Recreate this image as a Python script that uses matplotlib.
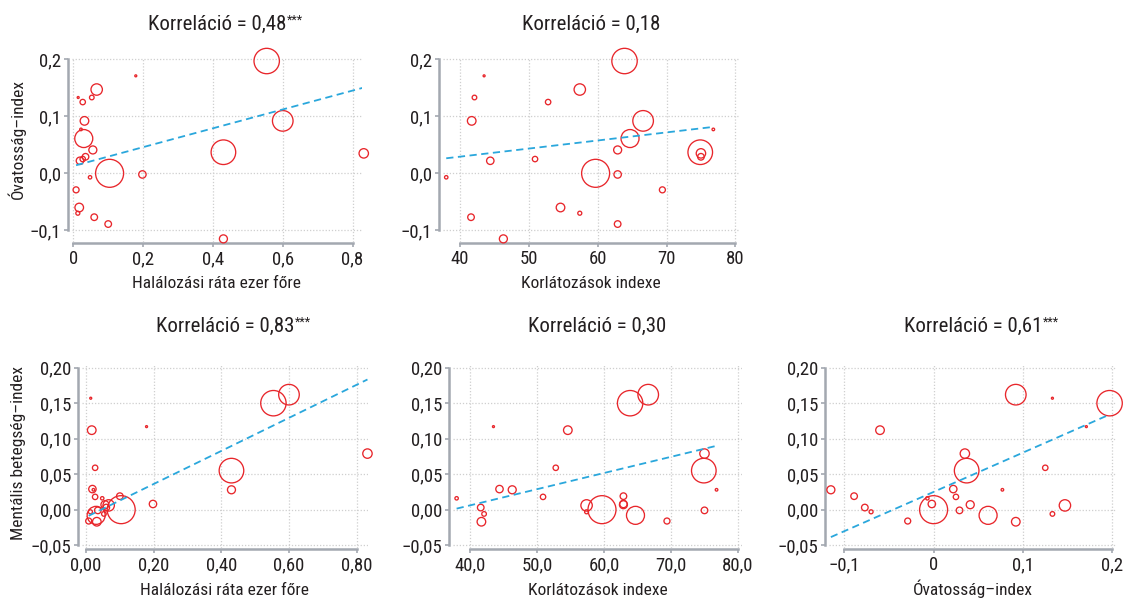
import numpy as np
import matplotlib
matplotlib.use("Agg")
import matplotlib.pyplot as plt
from matplotlib.ticker import FixedLocator, FixedFormatter

# --- Data (one entry per country, same order everywhere) ---
halalozas = [0.554, 0.179, 0.014, 0.027, 0.053, 0.067, 0.032, 0.022, 0.030, 0.056,
             0.035, 0.027, 0.019, 0.104, 0.198, 0.048, 0.008, 0.017, 0.013, 0.060,
             0.100, 0.430, 0.600, 0.430, 0.832]
korlatozas = [63.9, 43.5, np.nan, 52.8, 42.1, 57.4, 41.7, 76.8, 64.7, 62.9,
              75.0, 50.9, 44.4, 59.7, 62.9, 38.0, 69.4, 54.6, 57.4, 41.6,
              62.9, 74.9, 66.6, 46.3, 75.0]
ovatossag = [0.197, 0.171, 0.133, 0.125, 0.133, 0.147, 0.092, 0.077, 0.061, 0.041,
             0.029, 0.025, 0.022, 0.000, -0.002, -0.007, -0.029, -0.060, -0.070, -0.077,
             -0.089, 0.037, 0.092, -0.115, 0.035]
mentalis = [0.150, 0.117, 0.157, 0.059, -0.006, 0.006, -0.017, 0.028, -0.008, 0.007,
            -0.001, 0.018, 0.029, 0.000, 0.008, 0.016, -0.016, 0.112, -0.003, 0.003,
            0.019, 0.055, 0.162, 0.028, 0.079]
# bubble size variable (relative radius)
meret = [12.7, 1.0, 1.0, 2.7, 2.3, 5.7, 4.3, 1.3, 9.0, 4.0,
         3.3, 2.7, 3.7, 14.0, 3.7, 1.7, 3.0, 4.3, 2.0, 3.3,
         3.3, 12.3, 10.3, 4.0, 4.7]

korrelaciok = ["0,48", "0,18", "0,83", "0,30", "0,61"]
csillagok = ["***", "", "***", "", "***"]

x_halal_felso = ["0", "0,2", "0,4", "0,6", "0,8"]
x_halal_also = ["0,00", "0,20", "0,40", "0,60", "0,80"]
x_korl_felso = ["40", "50", "60", "70", "80"]
x_korl_also = ["40,0", "50,0", "60,0", "70,0", "80,0"]
x_ovat = ["\u22120,1", "0", "0,1", "0,2"]
y_ovat = ["\u22120,1", "0,0", "0,1", "0,2"]
y_ment = ["\u22120,05", "0,00", "0,05", "0,10", "0,15", "0,20"]

PIROS = "#e8262b"
KEK = "#2aa7dc"
SZURKE = "#a3a8b0"
RACS = "#cfcfcf"
SZOVEG = "#231f20"

W, H = 1124, 599

plt.rcParams["font.family"] = ["Roboto Condensed", "DejaVu Sans"]
plt.rcParams["font.stretch"] = "condensed"


def panel(fig, box, x, y, xticks, xlabels, yticks, ylabels, xlim, ylim,
          i, xlabel, ylabel=None, ylabel_pos=None, title_pad=20, xlabel_base=0):
    l, t, r, b = box
    ax = fig.add_axes([l / W, 1 - b / H, (r - l) / W, (b - t) / H])
    x = np.asarray(x, float)
    y = np.asarray(y, float)
    m = np.asarray(meret, float)
    ok = ~np.isnan(x) & ~np.isnan(y)

    ax.set_xlim(*xlim)
    ax.set_ylim(*ylim)
    ax.xaxis.set_major_locator(FixedLocator(xticks))
    ax.xaxis.set_major_formatter(FixedFormatter(xlabels))
    ax.yaxis.set_major_locator(FixedLocator(yticks))
    ax.yaxis.set_major_formatter(FixedFormatter(ylabels))
    ax.grid(True, linestyle=(0, (1, 1.5)), color=RACS, linewidth=0.9)
    ax.set_axisbelow(True)

    sizes = (2 * m[ok] * 72 / 100) ** 2
    ax.scatter(x[ok], y[ok], s=sizes, facecolors="none", edgecolors=PIROS,
               linewidths=0.95, clip_on=False, zorder=3)

    # weighted regression line (weight ~ bubble area) over the data range
    k, c = np.polyfit(x[ok], y[ok], 1, w=m[ok])
    xs = np.array([x[ok].min(), x[ok].max()])
    ax.plot(xs, k * xs + c, color=KEK, linestyle=(0, (4, 2.5)), linewidth=1.3, zorder=4)

    for s in ["top", "right"]:
        ax.spines[s].set_visible(False)
    ax.spines["left"].set_position(("outward", 3))
    ax.spines["bottom"].set_position(("outward", 1))
    ax.spines["left"].set_bounds(yticks[0], yticks[-1])
    ax.spines["bottom"].set_bounds(xticks[0], xticks[-1])
    for s in ["left", "bottom"]:
        ax.spines[s].set_color(SZURKE)
        ax.spines[s].set_linewidth(1.8)
    ax.tick_params(length=3, width=1.2, color=SZURKE, labelsize=13.5,
                   labelcolor=SZOVEG, pad=2)

    cim = ax.set_title("Korreláció = " + korrelaciok[i], fontsize=15,
                       color=SZOVEG, pad=title_pad)
    if csillagok[i]:
        ax.annotate(csillagok[i], xy=(1, 1), xycoords=cim, xytext=(0.5, 1),
                    textcoords="offset points", ha="left", va="top",
                    fontsize=9, color=SZOVEG)
    # x label placed on a fixed baseline (pixel row of the figure)
    ax.set_xlabel(xlabel, fontsize=12.5, color=SZOVEG, va="baseline")
    ax.xaxis.set_label_coords(0.5, (b - xlabel_base) / (b - t))
    if ylabel:
        ax.set_ylabel(ylabel, fontsize=12.5, color=SZOVEG)
        ax.yaxis.set_label_coords(*ylabel_pos)
    return ax


def main():
    fig = plt.figure(figsize=(W / 100, H / 100), dpi=100, facecolor="white")

    yt_o = [-0.1, 0.0, 0.1, 0.2]
    yt_m = [-0.05, 0.0, 0.05, 0.10, 0.15, 0.20]

    panel(fig, (72, 58, 362, 242), halalozas, ovatossag,
          [0, 0.2, 0.4, 0.6, 0.8], x_halal_felso, yt_o, y_ovat,
          (-0.0037, 0.827), (-0.1205, 0.2023),
          0, "Halálozási ráta ezer főre", "Óvatosság–index", (-0.16, 0.56),
          title_pad=20, xlabel_base=288)
    panel(fig, (443, 58, 739, 242), korlatozas, ovatossag,
          [40, 50, 60, 70, 80], x_korl_felso, yt_o, y_ovat,
          (37.53, 80.53), (-0.1205, 0.2023),
          1, "Korlátozások indexe", title_pad=20, xlabel_base=288)

    panel(fig, (82, 365, 368, 548), halalozas, mentalis,
          [0, 0.2, 0.4, 0.6, 0.8], x_halal_also, yt_m, y_ment,
          (-0.0118, 0.8336), (-0.054, 0.2038),
          2, "Halálozási ráta ezer főre", "Mentális betegség–index", (-0.197, 0.52),
          title_pad=24, xlabel_base=595)
    panel(fig, (453, 365, 742, 548), korlatozas, mentalis,
          [40, 50, 60, 70, 80], x_korl_also, yt_m, y_ment,
          (37.46, 80.6), (-0.054, 0.2038),
          3, "Korlátozások indexe", title_pad=24, xlabel_base=595)
    panel(fig, (829, 365, 1117, 548), ovatossag, mentalis,
          [-0.1, 0.0, 0.1, 0.2], x_ovat, yt_m, y_ment,
          (-0.1171, 0.2053), (-0.054, 0.2038),
          4, "Óvatosság–index", title_pad=24, xlabel_base=595)

    fig.savefig("out.png", dpi=100, facecolor="white")


if __name__ == "__main__":
    main()
